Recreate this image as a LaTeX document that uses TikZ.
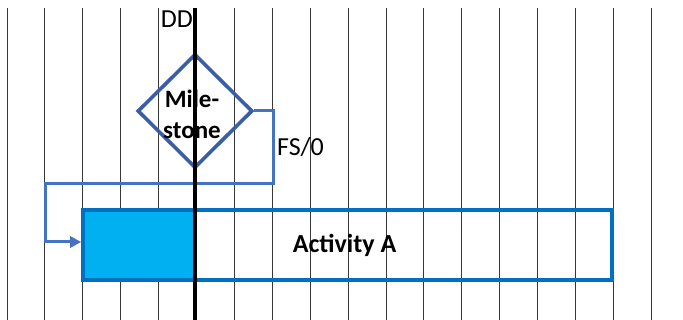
\documentclass[tikz,border=0pt]{standalone}
\usepackage{fontspec}
\setmainfont{Carlito}
\usetikzlibrary{shapes.geometric,arrows.meta}
\definecolor{msblue}{HTML}{3A5DA8}
\definecolor{linkblue}{HTML}{4472C4}
\definecolor{barblue}{HTML}{0070C0}
\definecolor{barfill}{HTML}{00B0F0}
\definecolor{gridgrey}{HTML}{383838}
\tikzset{
  gridline/.style={draw=gridgrey, line width=1pt},
  dateline/.style={draw=black, line width=4.2pt},
  milestone/.style={diamond, draw=msblue, line width=3.6pt, inner sep=0pt,
    minimum width=115pt, minimum height=114pt},
  activitybar/.style={rectangle, draw=barblue, line width=3.6pt, inner sep=0pt,
    minimum width=529pt, minimum height=70pt},
  donepart/.style={fill=barfill},
  link/.style={draw=linkblue, line width=3pt,
    -{Triangle[length=11pt,width=11pt]}},
  lbl/.style={inner sep=0pt, font=\fontsize{26}{30}\selectfont},
  boldlbl/.style={inner sep=0pt, font=\fontsize{25}{31}\bfseries\selectfont},
}
\begin{document}
\begin{tikzpicture}[x=1pt, y=-1pt]
  \useasboundingbox (0,0) rectangle (683,320);
  \fill[white] (0,0) rectangle (683,320);
  % weekly grid
  \foreach \k in {0,1,2,3,4,6,7,8,9,10,11,12,13,14,15,16,17}
    \draw[gridline] ({7+37.9*\k},8) -- ({7+37.9*\k},320);
  % activity bar with its completed part
  \fill[donepart] (83,210) rectangle (195,280);
  \node[activitybar] (act) at (347.5,245) {};
  \node[boldlbl, font=\fontsize{26}{30}\bfseries\selectfont, anchor=base] (actlbl) at (344.5,253) {Activity A};
  % milestone and its finish-to-start link
  \node[milestone] (ms) at (195,111) {};
  \node[boldlbl, align=center] (mslbl) at (192,114) {Mile-\\stone};
  \coordinate (k1) at (273,184);
  \coordinate (k2) at (45,184);
  \draw[link] (ms.east) -| (k1) -- (k2) |- ([yshift=3pt]act.west);
  \node[lbl, anchor=base west] (fs) at (277,156) {FS/0};
  % data date line
  \coordinate (ddtop) at (195,8);
  \coordinate (ddbot) at (195,320);
  \draw[dateline] (ddtop) -- (ddbot);
  \node[lbl, anchor=base east] (dd) at (193,28) {DD};
\end{tikzpicture}
\end{document}
